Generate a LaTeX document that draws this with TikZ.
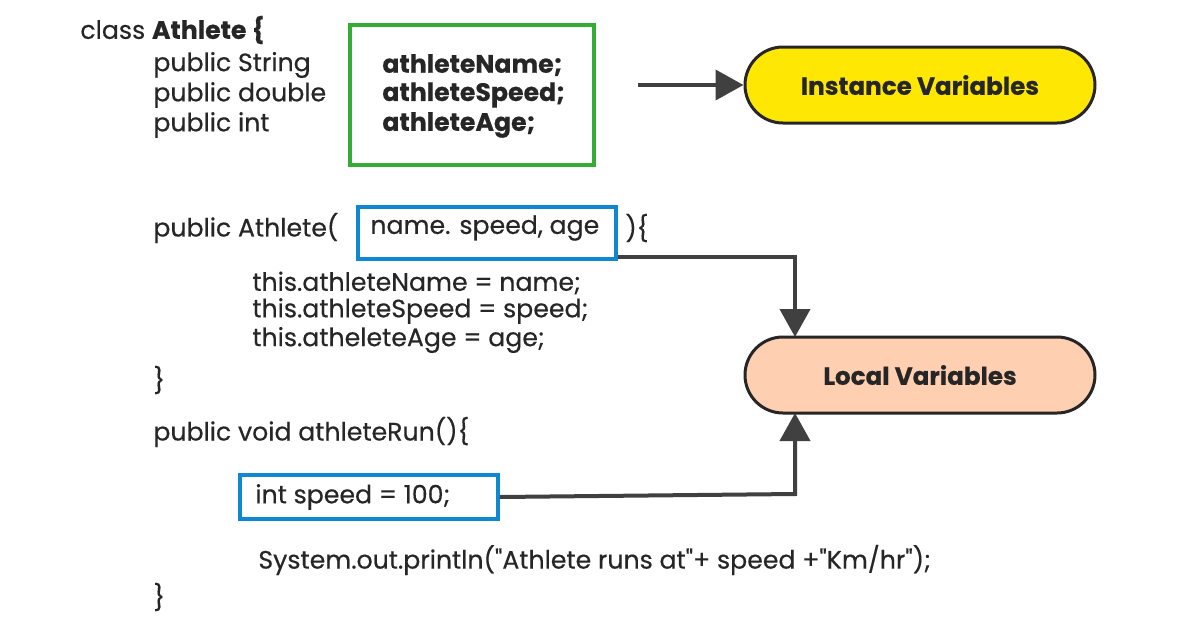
\documentclass[tikz,border=0pt]{standalone}
\usepackage{fontspec}
\setmainfont{Poppins}[FakeBold=0.4,Ligatures=NoCommon]
\newfontfamily\boldish{Poppins}[FakeBold=1.2]
\usetikzlibrary{arrows.meta}
\begin{document}
\begin{tikzpicture}[x=0.5pt,y=-0.5pt,
  code/.style={anchor=west,inner sep=0,font=\fontsize{12.6}{14}\selectfont,text=black!85},
  bcode/.style={code,font=\fontsize{12.6}{14}\selectfont\bfseries},
  pill/.style={draw=black!85,line width=1.5pt,rounded corners=19pt,minimum width=175pt,minimum height=38pt,font=\fontsize{12.3}{14}\selectfont\bfseries,text=black!85},
  conn/.style={draw=black!75,line width=2pt,-{Triangle[length=14pt,width=15pt]}}]
\path[use as bounding box,fill=white] (0,0) rectangle (1196,628);
\node[code] (c0) at (80,30) {class \textbf{Athlete \{}};
\node[code] (c1) at (153,65) {public String};
\node[code] (c2) at (153,95) {public double};
\node[code] (c3) at (153,125) {public int};
\node[bcode] (v1) at (382,65) {athleteName;};
\node[bcode] (v2) at (382,95) {athleteSpeed;};
\node[bcode] (v3) at (382,125) {athleteAge;};
\node[draw=green!60!black!80,line width=1.8pt,minimum width=122pt,minimum height=70pt] (gbox) at (472,95) {};
\node[pill,fill=yellow!90!orange] (inst) at (920,85) {Instance Variables};
\coordinate (a1) at (638,85);
\draw[conn] (a1) -- (inst.west);
\node[code] (k1) at (153,228) {public Athlete(};
\node[draw=cyan!70!blue,line width=1.8pt,minimum width=129pt,minimum height=26pt] (pbox) at (487,233) {};
\node[code] (k2) at (370,228) {name. speed, age};
\node[code] (k3) at (625,228) {)\{};
\node[code] (t1) at (252,283) {this.athleteName = name;};
\node[code] (t2) at (252,311) {this.athleteSpeed = speed;};
\node[code] (t3) at (252,340) {this.atheleteAge = age;};
\node[code] (b1) at (153,380) {\}};
\node[pill,fill=red!25!orange!30] (loc) at (920,375) {Local Variables};
\node[code] (r1) at (153,432) {public void athleteRun()\{};
\node[draw=cyan!70!blue,line width=1.8pt,minimum width=129pt,minimum height=22pt] (ibox) at (369,497) {};
\node[code] (r2) at (255,497) {int speed = 100;};
\node[code] (r3) at (258,560) {System.out.println(\textquotedbl Athlete runs at\textquotedbl+ speed +\textquotedbl Km/hr\textquotedbl);};
\node[code] (b2) at (153,597) {\}};
\draw[conn] (pbox.south east |- 0,257) -- (795,257) -- (795,337);
\draw[conn] (ibox.east) -- (795,494) -- (795,413);
\end{tikzpicture}
\end{document}
